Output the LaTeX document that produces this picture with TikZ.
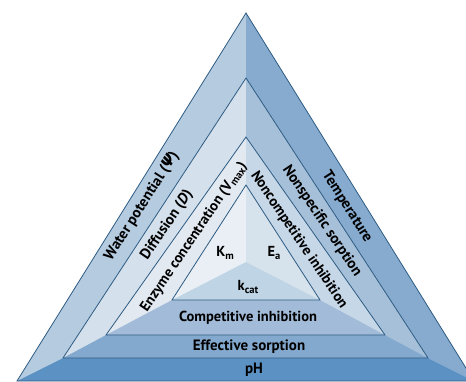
\documentclass[tikz,border=0pt]{standalone}
\usepackage{fontspec}
\setmainfont{PT Sans}
\newfontfamily\greekfont{DejaVu Sans}
\usetikzlibrary{calc}

\definecolor{lineblue}{HTML}{2E5B82}
% outer band
\definecolor{waterfill}{HTML}{B4CBE0}
\definecolor{tempfill}{HTML}{86ABCF}
\definecolor{phfill}{HTML}{5C91C3}
% second band
\definecolor{difffill}{HTML}{D4E0EB}
\definecolor{nonspecfill}{HTML}{A6C0D9}
\definecolor{efffill}{HTML}{84A9CE}
% third band
\definecolor{enzfill}{HTML}{E2E9F1}
\definecolor{noncompfill}{HTML}{C6D7E7}
\definecolor{compfill}{HTML}{A1BBD8}
% core
\definecolor{kmfill}{HTML}{E9EFF5}
\definecolor{eafill}{HTML}{D6E2EC}
\definecolor{kcatfill}{HTML}{BFD4E4}

\newcommand{\lowidx}[1]{\raisebox{-0.35ex}{\fontsize{10.5}{10}\selectfont #1}}

\tikzset{
  rim/.style={draw=lineblue, line width=0.8pt, line join=miter},
  bandtext/.style={font=\bfseries\fontsize{15}{16}\selectfont, inner sep=0pt},
  coretext/.style={font=\bfseries\fontsize{14.5}{16}\selectfont, inner sep=0pt}
}

\begin{document}
\begin{tikzpicture}[x=1pt,y=1pt]
			\useasboundingbox (0,0) rectangle (466,381);
			\clip (0,0) rectangle (466,381);
			
			%%%%% CORNERS %%%%%
			\coordinate (oa) at (246, 368);
			\coordinate (ol) at (17, 0);
			\coordinate (or) at (474, 0);
			
			\coordinate (sa) at (246, 303);
			\coordinate (sl) at (63, 23);
			\coordinate (sr) at (428, 23);
			
			\coordinate (ta) at (246, 244);
			\coordinate (tl) at (106, 46);
			\coordinate (tr) at (385, 46);
			
			\coordinate (fa) at (246, 196);
			\coordinate (fl) at (172, 81);
			\coordinate (fr) at (320, 81);
			
			\coordinate (mid) at (246, 119);
			
			%%%%% OUTER BAND %%%%%
			\fill[waterfill] (oa) -- (ol) -- (sl) -- (sa) -- cycle;
			\fill[tempfill] (oa) -- (or) -- (sr) -- (sa) -- cycle;
			\fill[phfill] (ol) -- (or) -- (sr) -- (sl) -- cycle;
			
			%%%%% SECOND BAND %%%%%
			\fill[difffill] (sa) -- (sl) -- (tl) -- (ta) -- cycle;
			\fill[nonspecfill] (sa) -- (sr) -- (tr) -- (ta) -- cycle;
			\fill[efffill] (sl) -- (sr) -- (tr) -- (tl) -- cycle;
			
			%%%%% THIRD BAND %%%%%
			\fill[enzfill] (ta) -- (tl) -- (fl) -- (fa) -- cycle;
			\fill[noncompfill] (ta) -- (tr) -- (fr) -- (fa) -- cycle;
			\fill[compfill] (tl) -- (tr) -- (fr) -- (fl) -- cycle;
			
			%%%%% CORE %%%%%
			\fill[kmfill] (fa) -- (fl) -- (mid) -- cycle;
			\fill[eafill] (fa) -- (fr) -- (mid) -- cycle;
			\fill[kcatfill] (fl) -- (fr) -- (mid) -- cycle;
			
			%%%%% OUTLINES %%%%%
			\draw[rim] (oa) -- (ol) -- (or) -- cycle;
			\draw[rim] (sa) -- (sl) -- (sr) -- cycle;
			\draw[rim] (ta) -- (tl) -- (tr) -- cycle;
			\draw[rim] (fa) -- (fl) -- (fr) -- cycle;
			
			%%%%% LABELS %%%%%
			\node[bandtext, rotate=57.5] (water) at (142, 175) {Water potential ({\greekfont\itshape Ψ})};
			\node[bandtext, rotate=56] (diff) at (167, 156) {Diffusion (\textit{D})};
			\node[coretext, rotate=56] (enz) at (194, 144) {Enzyme concentration (V\lowidx{max})};
			
			\node[bandtext, rotate=-57.5] (temp) at (347, 174) {Temperature};
			\node[bandtext, rotate=-56] (nonspec) at (322, 160) {Nonspecific sorption};
			\node[coretext, rotate=-56] (noncomp) at (299, 141) {Noncompetitive inhibition};
			
			\node[coretext] (km) at (225, 128) {K\lowidx{m}};
			\node[coretext] (ea) at (274, 128) {E\lowidx{a}};
			\node[coretext] (kcat) at (248, 94) {k\lowidx{cat}};
			
			\node[coretext] (comp) at (248, 63) {Competitive inhibition};
			\node[bandtext] (eff) at (249, 34) {Effective sorption};
			\node[bandtext] (ph) at (254, 11) {pH};
			
		\end{tikzpicture}
\end{document}
